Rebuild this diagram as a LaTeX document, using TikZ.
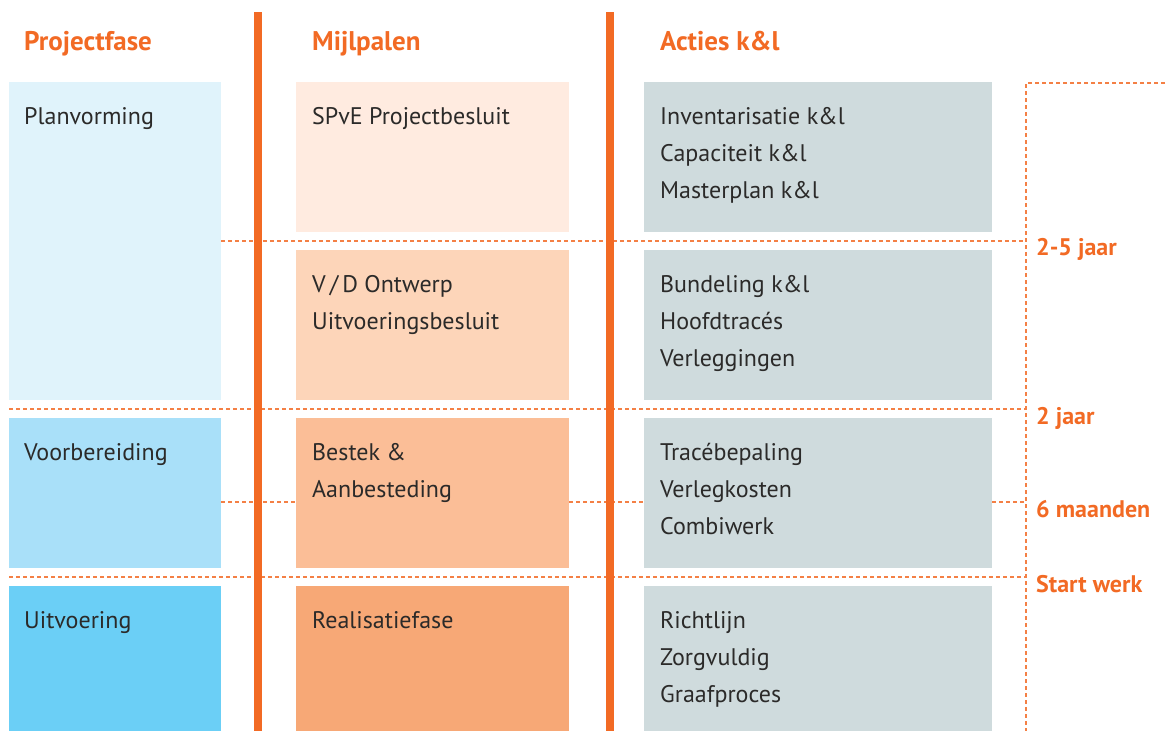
\documentclass[tikz,border=0pt]{standalone}
\usepackage{fontspec}
\setmainfont{PT Sans}
\usetikzlibrary{calc}
\definecolor{oranje}{HTML}{F26A24}
\definecolor{donker}{HTML}{2B2A29}
\definecolor{blauw1}{HTML}{E0F3FB}
\definecolor{blauw2}{HTML}{A9E0F9}
\definecolor{blauw3}{HTML}{6BCFF6}
\definecolor{zalm1}{HTML}{FFEBE0}
\definecolor{zalm2}{HTML}{FDD5B9}
\definecolor{zalm3}{HTML}{FBBE97}
\definecolor{zalm4}{HTML}{F7A876}
\definecolor{grijs}{HTML}{CFDBDD}

\begin{document}
\begin{tikzpicture}[x=1pt,y=-1pt,
    vak/.style={anchor=north west, inner sep=0pt, minimum height=150pt},
    links/.style={vak, minimum width=212pt},
    midden/.style={vak, minimum width=273pt},
    rechts/.style={vak, minimum width=348pt, fill=grijs},
    tekst/.style={anchor=base west, inner sep=0pt, text=donker, font=\fontsize{24}{28}\selectfont},
    kop/.style={anchor=base west, inner sep=0pt, text=oranje, font=\bfseries\fontsize{27}{31}\selectfont},
    tijd/.style={kop, font=\bfseries\fontsize{24}{28}\selectfont},
    balk/.style={draw=oranje, line width=8pt},
    streep/.style={draw=oranje!85, line width=1.2pt, dash pattern=on 4pt off 3pt}]
  \useasboundingbox (0,0) rectangle (1165,731);

  % koppen
  \node[kop] (hfase) at (24,50) {Projectfase};
  \node[kop] (hmijl) at (312,50) {Mijlpalen};
  \node[kop] (hacties) at (660,50) {Acties k\&l};

  % projectfasen
  \node[links, fill=blauw1, minimum height=318pt] (plan) at (9,82) {};
  \node[links, fill=blauw2] (voorb) at (9,418) {};
  \node[links, fill=blauw3, minimum height=145pt] (uitv) at (9,586) {};

  % mijlpalen
  \node[midden, fill=zalm1] (spve) at (296,82) {};
  \node[midden, fill=zalm2] (vdo) at (296,250) {};
  \node[midden, fill=zalm3] (bestek) at (296,418) {};
  \node[midden, fill=zalm4, minimum height=145pt] (real) at (296,586) {};

  % acties
  \node[rechts] (act1) at (644,82) {};
  \node[rechts] (act2) at (644,250) {};
  \node[rechts] (act3) at (644,418) {};
  \node[rechts, minimum height=145pt] (act4) at (644,586) {};

  % tijdlijn
  \coordinate (trand) at (1165,83);
  \coordinate (t0) at (1026,83);
  \coordinate (t25) at (1026,241);
  \coordinate (t2) at (1026,409);
  \coordinate (t6) at (1026,502);
  \coordinate (tstart) at (1026,577);
  \coordinate (teind) at (1026,731);

  \draw[streep] (trand) -- (t0) -- (teind);
  \draw[streep] (plan.east |- t25) -- (t25);
  \draw[streep] (plan.west |- t2) -- (t2);
  \draw[streep] (voorb.east |- t6) -- (bestek.west |- t6);
  \draw[streep] (bestek.east |- t6) -- (act3.west |- t6);
  \draw[streep] (act3.east |- t6) -- (t6);
  \draw[streep] (plan.west |- tstart) -- (tstart);

  \node[tijd] (l25) at ($(t25)+(10,14)$) {2-5 jaar};
  \node[tijd] (l2) at ($(t2)+(10,15)$) {2 jaar};
  \node[tijd] (l6) at ($(t6)+(10,15)$) {6 maanden};
  \node[tijd] (lstart) at ($(tstart)+(10,15)$) {Start werk};

  % balken
  \draw[balk] (258,12) -- (258,731);
  \draw[balk] (610,12) -- (610,731);

  % teksten
  \node[tekst] (tplan) at ($(plan.north west)+(15,42)$) {Planvorming};
  \node[tekst] (tvoorb) at ($(voorb.north west)+(15,42)$) {Voorbereiding};
  \node[tekst] (tuitv) at ($(uitv.north west)+(15,42)$) {Uitvoering};

  \node[tekst] (tspve) at ($(spve.north west)+(16,42)$) {SPvE Projectbesluit};
  \foreach \regel [count=\i from 0] in {V\,/\,D Ontwerp, Uitvoeringsbesluit}
    \node[tekst] (tvdo-\i) at ($(vdo.north west)+(16,42+37*\i)$) {\regel};
  \foreach \regel [count=\i from 0] in {Bestek \&, Aanbesteding}
    \node[tekst] (tbestek-\i) at ($(bestek.north west)+(16,42+37*\i)$) {\regel};
  \node[tekst] (treal) at ($(real.north west)+(16,42)$) {Realisatiefase};

  \foreach \regel [count=\i from 0] in {Inventarisatie k\&l, Capaciteit k\&l, Masterplan k\&l}
    \node[tekst] (tact1-\i) at ($(act1.north west)+(16,42+37*\i)$) {\regel};
  \foreach \regel [count=\i from 0] in {Bundeling k\&l, Hoofdtracés, Verleggingen}
    \node[tekst] (tact2-\i) at ($(act2.north west)+(16,42+37*\i)$) {\regel};
  \foreach \regel [count=\i from 0] in {Tracébepaling, Verlegkosten, Combiwerk}
    \node[tekst] (tact3-\i) at ($(act3.north west)+(16,42+37*\i)$) {\regel};
  \foreach \regel [count=\i from 0] in {Richtlijn, Zorgvuldig, Graafproces}
    \node[tekst] (tact4-\i) at ($(act4.north west)+(16,42+37*\i)$) {\regel};
\end{tikzpicture}
\end{document}
